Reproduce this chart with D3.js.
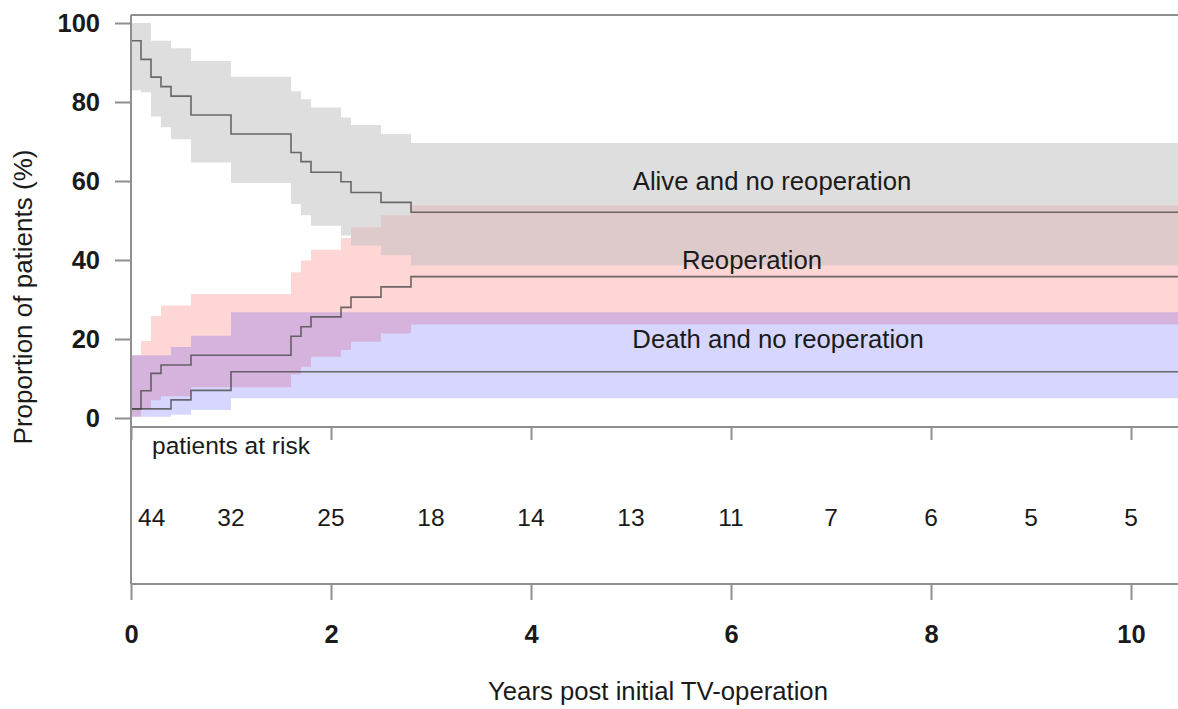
<!DOCTYPE html>
<html>
<head>
<meta charset="utf-8">
<script src="https://cdn.jsdelivr.net/npm/d3@7"></script>
<style>
  body { margin: 0; background: #fff; }
  svg { display: block; }
  text { font-family: "Liberation Sans", Arial, Helvetica, sans-serif; fill: #1a1a1a; }
</style>
</head>
<body>
<svg id="chart" width="1178" height="709"></svg>
<script>
// Alive and no reoperation: Kaplan-Meier style step estimate with confidence band (%)
const aliveTimes = [0, 0.1, 0.2, 0.3, 0.4, 0.6, 1.0, 1.6, 1.7, 1.8, 2.1, 2.2, 2.5, 2.8];
const aliveEst   = [95.5, 90.8, 86.3, 83.9, 81.5, 76.7, 71.9, 67.2, 64.9, 62.2, 59.8, 57.1, 54.6, 52.1];
const aliveUpper = [100, 100, 95.5, 95.5, 93.6, 90.4, 86.4, 82.7, 80.7, 78.6, 76.1, 74.2, 71.9, 69.6];
const aliveLower = [83.0, 82.5, 76.3, 73.6, 70.6, 64.7, 59.5, 54.2, 51.3, 48.7, 46.2, 43.7, 41.2, 38.6];

// Reoperation: cumulative incidence (%)
const reopTimes = [0, 0.1, 0.2, 0.3, 0.6, 1.6, 1.7, 1.8, 2.1, 2.2, 2.5, 2.8];
const reopEst   = [2.3, 6.9, 11.3, 13.4, 15.9, 20.7, 23.1, 25.6, 28.0, 30.6, 33.2, 35.8];
const reopUpper = [15.9, 19.5, 25.8, 28.5, 31.4, 36.9, 39.9, 42.6, 45.6, 48.3, 51.3, 53.8];
const reopLower = [0.3, 2.3, 4.5, 5.5, 7.8, 11.0, 13.0, 15.5, 17.2, 19.3, 21.4, 23.7];

// Death and no reoperation: cumulative incidence (%)
const deathTimes = [0, 0.4, 0.6, 1.0];
const deathEst   = [2.3, 4.6, 7.0, 11.7];
const deathUpper = [15.9, 18.0, 20.8, 26.8];
const deathLower = [0.3, 0.8, 2.0, 5.0];

// Patients at risk, yearly
const riskYears  = [0, 1, 2, 3, 4, 5, 6, 7, 8, 9, 10];
const riskCounts = [44, 32, 25, 18, 14, 13, 11, 7, 6, 5, 5];

const xTicks = [0, 2, 4, 6, 8, 10];
const yTicks = [0, 20, 40, 60, 80, 100];
const curveLabels = ["Alive and no reoperation", "Reoperation", "Death and no reoperation"];
const labelPos = [[6.41, 60], [6.21, 40], [6.47, 20]];
const tMax = 10.47;

const svg = d3.select("#chart");
const x = d3.scaleLinear().domain([0, tMax]).range([131, 1178]);
const y = d3.scaleLinear().domain([0, 100]).range([418, 23]);

const axisCol = "#8f8f8f";
const plotTop = 15, panelBottom = 427, riskBottom = 584;

function series(times, est, lo, hi) {
  const rows = times.map((t, i) => ({ t, est: est[i], lo: lo[i], hi: hi[i] }));
  const last = rows[rows.length - 1];
  rows.push({ ...last, t: tMax });
  return rows;
}

const sAlive = series(aliveTimes, aliveEst, aliveLower, aliveUpper);
const sReop  = series(reopTimes, reopEst, reopLower, reopUpper);
const sDeath = series(deathTimes, deathEst, deathLower, deathUpper);

svg.append("clipPath").attr("id", "plotClip")
  .append("rect").attr("x", x(0)).attr("y", plotTop)
  .attr("width", x(tMax) - x(0)).attr("height", panelBottom - plotTop);

const plot = svg.append("g").attr("clip-path", "url(#plotClip)");

const band = d3.area().curve(d3.curveStepAfter)
  .x(d => x(d.t)).y0(d => y(d.lo)).y1(d => y(d.hi));
const step = d3.line().curve(d3.curveStepAfter)
  .x(d => x(d.t)).y(d => y(d.est));

// confidence bands: red and blue translucent, grey on top
plot.append("path").datum(sReop).attr("d", band).attr("fill", "rgba(255,0,0,0.16)");
plot.append("path").datum(sDeath).attr("d", band).attr("fill", "rgba(0,0,255,0.16)");
plot.append("path").datum(sAlive).attr("d", band).attr("fill", "rgba(190,190,190,0.5)");

[sAlive, sReop, sDeath].forEach(s => {
  plot.append("path").datum(s).attr("d", step)
    .attr("fill", "none").attr("stroke", "#4a4a4a")
    .attr("stroke-opacity", 0.8).attr("stroke-width", 1.6);
});

// curve labels
curveLabels.forEach((lab, i) => {
  svg.append("text")
    .attr("x", x(labelPos[i][0])).attr("y", y(labelPos[i][1]))
    .attr("dy", "0.35em").attr("text-anchor", "middle")
    .style("font-size", "25.7px").text(lab);
});

// frame lines
const frame = svg.append("g").attr("stroke", axisCol).attr("stroke-width", 2).attr("fill", "none");
frame.append("line").attr("x1", x(0)).attr("x2", x(tMax)).attr("y1", plotTop).attr("y2", plotTop);
frame.append("line").attr("x1", x(0)).attr("x2", x(0)).attr("y1", plotTop).attr("y2", riskBottom);
frame.append("line").attr("x1", x(0)).attr("x2", x(tMax)).attr("y1", panelBottom).attr("y2", panelBottom);
frame.append("line").attr("x1", x(0)).attr("x2", x(tMax)).attr("y1", riskBottom).attr("y2", riskBottom);

function styleAxis(g) {
  g.select(".domain").remove();
  g.selectAll(".tick line").attr("stroke", axisCol).attr("stroke-width", 2);
  g.selectAll(".tick text").style("font-size", "25.5px").style("font-weight", "bold").attr("fill", "#1a1a1a");
}

// y axis
svg.append("g").attr("transform", `translate(${x(0)},0)`)
  .call(d3.axisLeft(y).tickValues(yTicks).tickSize(16).tickPadding(15).tickFormat(d3.format("d")))
  .call(styleAxis);

// ticks under the main panel
svg.append("g").attr("transform", `translate(0,${panelBottom})`)
  .call(d3.axisBottom(x).tickValues(xTicks).tickSize(13).tickFormat(""))
  .call(styleAxis);

// bottom axis with labels
svg.append("g").attr("transform", `translate(0,${riskBottom})`)
  .call(d3.axisBottom(x).tickValues(xTicks).tickSize(16).tickPadding(25).tickFormat(d3.format("d")))
  .call(styleAxis);

// patients at risk
svg.append("text").attr("x", x(0) + 21).attr("y", 454)
  .style("font-size", "24.5px").text("patients at risk");
svg.selectAll(".risk").data(riskYears).enter().append("text")
  .attr("class", "risk")
  .attr("x", (d, i) => i === 0 ? x(d) + 7 : x(d))
  .attr("y", 526)
  .attr("text-anchor", (d, i) => i === 0 ? "start" : "middle")
  .style("font-size", "24.5px")
  .text((d, i) => riskCounts[i]);

// axis titles
svg.append("text").attr("transform", "translate(32,297) rotate(-90)")
  .attr("text-anchor", "middle").style("font-size", "26px")
  .text("Proportion of patients (%)");
svg.append("text").attr("x", 658).attr("y", 700)
  .attr("text-anchor", "middle").style("font-size", "25.7px")
  .text("Years post initial TV-operation");
</script>
</body>
</html>
